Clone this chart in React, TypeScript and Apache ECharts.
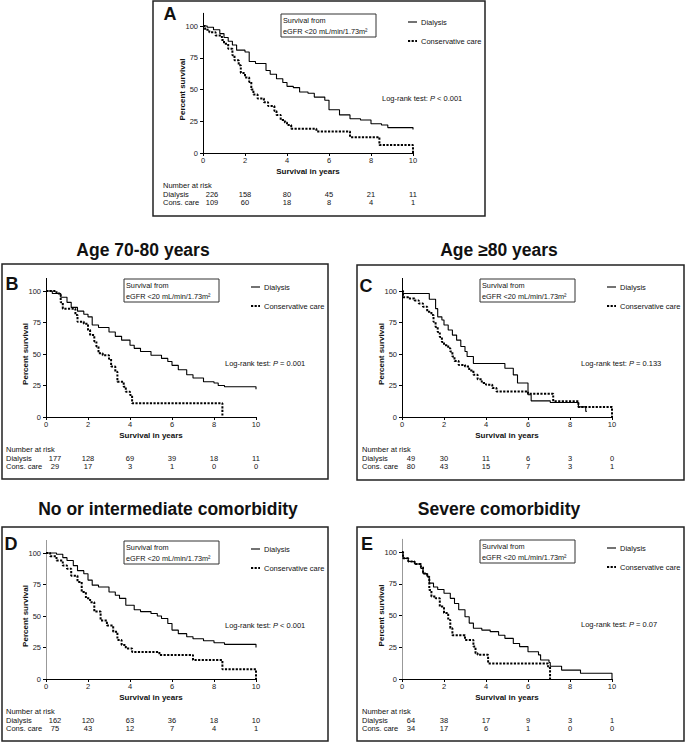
import React, { useEffect, useRef } from 'react';
import * as echarts from 'echarts';

// ---------- data ----------
const xTicks = [0, 2, 4, 6, 8, 10];
const yTicks = [0, 25, 50, 75, 100];

const panelLetters = ['A', 'B', 'C', 'D', 'E'];
const panelTitles = ['', 'Age 70-80 years', 'Age \u226580 years', 'No or intermediate comorbidity', 'Severe comorbidity'];
const pValues = ['< 0.001', '= 0.001', '= 0.133', '< 0.001', '= 0.07'];
const seriesNames = ['Dialysis', 'Conservative care'];
const riskLabels = ['Dialysis', 'Cons. care'];

const aDialysis = [[0, 100], [0.2, 99], [0.5, 97], [0.8, 94], [1.0, 91], [1.2, 88], [1.4, 85], [1.6, 81], [2.0, 79.5], [2.2, 72], [2.5, 70.5], [3.0, 65], [3.2, 62], [3.5, 58.5], [3.8, 55.5], [4.0, 52.5], [4.3, 51.5], [4.6, 48], [5.0, 47], [5.3, 44], [5.8, 41.5], [6.0, 34], [6.5, 30], [7.0, 27], [7.5, 26], [8.0, 23], [8.5, 22], [8.8, 20], [10, 20], [10, 18.5]];
const aCons = [[0, 100], [0.1, 97], [0.3, 95], [0.6, 92.5], [0.9, 89], [1.0, 86], [1.2, 82], [1.4, 77], [1.5, 73], [1.7, 69], [1.8, 63], [2.0, 59.5], [2.2, 56], [2.3, 50], [2.4, 46], [2.6, 43], [2.9, 40], [3.1, 37], [3.4, 33], [3.5, 30], [3.7, 26], [3.9, 24], [4.0, 22], [4.2, 19], [5.4, 17], [7.0, 12.5], [8.4, 6.3], [10, 0]];

const bDialysis = [[0, 100], [0.3, 98], [0.7, 95], [1.0, 91], [1.2, 87], [1.5, 84], [1.8, 81.5], [2.0, 79.5], [2.2, 73], [2.5, 71], [3.0, 67.5], [3.3, 64], [3.6, 61], [4.0, 57], [4.2, 54.5], [4.5, 52], [5.0, 49], [5.5, 46.5], [5.8, 44], [6.0, 41], [6.3, 37.5], [6.7, 33.5], [7.0, 31], [7.5, 28], [8.0, 27], [8.2, 25], [8.5, 24], [10, 24], [10, 22]];
const bCons = [[0, 100], [0.5, 98], [0.7, 91], [0.8, 86], [1.4, 81], [1.5, 75.5], [1.8, 74], [2.0, 69], [2.1, 65], [2.3, 60], [2.4, 56], [2.5, 50.5], [2.7, 49], [3.0, 46], [3.1, 40], [3.3, 36], [3.4, 28], [3.7, 24], [3.8, 20], [4.0, 17.5], [4.1, 11], [8.4, 0]];

const cDialysis = [[0, 100], [0.05, 98], [1.3, 93.5], [1.6, 86], [1.7, 79.5], [1.9, 77], [2.0, 73], [2.2, 69], [2.4, 65], [2.6, 61], [2.8, 56], [3.0, 52], [3.1, 48], [3.4, 42.5], [4.9, 38.7], [5.3, 33.4], [5.5, 27], [6.0, 17.6], [6.15, 12.8], [7.06, 11.5], [8.4, 8], [8.75, 4.5], [8.8, 4.5]];
const cCons = [[0, 100], [0.05, 95], [0.3, 94], [0.6, 92.5], [0.8, 90], [1.0, 87.5], [1.2, 83.5], [1.4, 81], [1.5, 75.5], [1.6, 71.5], [1.7, 67.5], [1.8, 63.5], [1.9, 59.5], [2.0, 57], [2.2, 54.5], [2.3, 52], [2.4, 48], [2.5, 44.5], [2.7, 41.3], [3.0, 40], [3.2, 37], [3.4, 33.5], [3.6, 30], [3.8, 27], [4.0, 25.5], [4.3, 23], [4.5, 20.3], [6.0, 18.4], [7.2, 12.5], [8.4, 8], [10, 0]];

const dDialysis = [[0, 100], [0.5, 99], [0.8, 96.3], [1.0, 94], [1.3, 90], [1.5, 86], [1.8, 83.5], [2.0, 78.5], [2.2, 74.5], [2.5, 73], [3.0, 69], [3.3, 66.5], [3.5, 64], [3.8, 58.5], [4.2, 55], [4.5, 53.5], [5.0, 52], [5.3, 50], [5.5, 48], [5.8, 44], [6.0, 38.8], [6.3, 36], [6.7, 33.5], [7.0, 32], [7.5, 30.3], [8.0, 28.8], [8.5, 27.5], [10, 27.5], [10, 25]];
const dCons = [[0, 100], [0.2, 97.5], [0.5, 94], [0.8, 90], [1.0, 87.5], [1.2, 82], [1.5, 77], [1.7, 69], [1.9, 64], [2.1, 61], [2.3, 53.5], [2.6, 46.5], [2.9, 42.5], [3.2, 37.5], [3.4, 31], [3.6, 27], [3.8, 24.3], [4.1, 21.5], [5.4, 19], [7.0, 15], [8.4, 7.7], [10, 0]];

const eDialysis = [[0, 100], [0.05, 95], [0.3, 92.5], [0.6, 90.5], [0.9, 87], [1.0, 83], [1.2, 80.5], [1.3, 75.5], [1.5, 72.5], [1.7, 70.5], [2.0, 67.5], [2.3, 63.5], [2.5, 59.5], [2.7, 54.5], [3.0, 49], [3.2, 44], [3.4, 40], [3.8, 38.5], [4.2, 37.3], [4.6, 34.5], [4.9, 32], [5.3, 28], [5.6, 25.5], [6.0, 21.5], [6.5, 19], [6.6, 15], [7.0, 13], [7.06, 10], [7.6, 7], [8.5, 4.5], [10, 0]];
const eCons = [[0, 100], [0.05, 95], [0.3, 92.5], [0.6, 90.5], [0.9, 88], [1.0, 83], [1.2, 80.5], [1.3, 70], [1.4, 65], [1.6, 63.5], [1.8, 57], [2.0, 52], [2.2, 46.5], [2.3, 40], [2.4, 34.5], [3.0, 30.7], [3.4, 25.5], [3.5, 20.3], [3.6, 19], [4.1, 12.3], [6.95, 9.8], [7.05, 0]];

const aRiskDialysis = [226, 158, 80, 45, 21, 11];
const aRiskCons = [109, 60, 18, 8, 4, 1];
const bRiskDialysis = [177, 128, 69, 39, 18, 11];
const bRiskCons = [29, 17, 3, 1, 0, 0];
const cRiskDialysis = [49, 30, 11, 6, 3, 0];
const cRiskCons = [80, 43, 15, 7, 3, 1];
const dRiskDialysis = [162, 120, 63, 36, 18, 10];
const dRiskCons = [75, 43, 12, 7, 4, 1];
const eRiskDialysis = [64, 38, 17, 9, 3, 1];
const eRiskCons = [34, 17, 6, 1, 0, 0];

const curves = [[aDialysis, aCons], [bDialysis, bCons], [cDialysis, cCons], [dDialysis, dCons], [eDialysis, eCons]];
const risks = [[aRiskDialysis, aRiskCons], [bRiskDialysis, bRiskCons], [cRiskDialysis, cRiskCons], [dRiskDialysis, dRiskCons], [eRiskDialysis, eRiskCons]];

// ---------- layout ----------
const FONT = '"Liberation Sans", Arial, Helvetica, sans-serif';
const PLOT_W = 210;
const layouts = [
  { x0: 203, yTop: 26, plotH: 127, box: [153, 1, 332, 215], letter: [170, 14], title: null as null | number[], yAxisColor: '#000' },
  { x0: 46, yTop: 291, plotH: 126, box: [2, 264, 326, 215], letter: [12, 284], title: [143, 250], yAxisColor: '#000' },
  { x0: 402, yTop: 291, plotH: 126, box: [357, 265, 327, 215], letter: [366, 286], title: [499, 250], yAxisColor: '#000' },
  { x0: 46, yTop: 553, plotH: 126, box: [2, 527, 326, 214], letter: [11, 544], title: [168, 509], yAxisColor: '#999' },
  { x0: 402, yTop: 552, plotH: 127, box: [357, 527, 327, 214], letter: [367, 544], title: [499, 509], yAxisColor: '#999' },
];

function txt(x: number, y: number, text: string, opts: any = {}) {
  const { align = 'left', vAlign = 'middle', size = 7.5, weight = 'normal', rotation = 0, rich } = opts;
  return {
    type: 'text', x, y, rotation, silent: true,
    style: {
      text, fontSize: size, fontWeight: weight, fontFamily: FONT, fill: '#111',
      align, verticalAlign: vAlign, textAlign: align, textVerticalAlign: vAlign,
      ...(rich ? { rich } : {}),
    },
  };
}

function buildOption() {
  const grid: any[] = [];
  const xAxis: any[] = [];
  const yAxis: any[] = [];
  const series: any[] = [];
  const graphic: any[] = [];

  layouts.forEach((l, i) => {
    const gridTop = l.yTop - l.plotH * 0.1;
    grid.push({ left: l.x0, top: gridTop, width: PLOT_W, height: l.plotH * 1.1 });
    xAxis.push({
      type: 'value', gridIndex: i, min: 0, max: 10, interval: 2,
      axisLine: { show: true, onZero: false, lineStyle: { color: '#000', width: 1 } },
      axisTick: { show: true, length: 3, lineStyle: { color: '#000' } },
      axisLabel: { fontSize: 7.5, color: '#222', margin: 3, fontFamily: FONT },
      splitLine: { show: false },
    });
    yAxis.push({
      type: 'value', gridIndex: i, min: 0, max: 110,
      axisLine: { show: true, onZero: false, lineStyle: { color: l.yAxisColor, width: 1 } },
      axisTick: { show: true, length: 3, customValues: yTicks, lineStyle: { color: '#000' } },
      axisLabel: { fontSize: 7.5, color: '#222', margin: 5, fontFamily: FONT, customValues: yTicks },
      splitLine: { show: false },
    });
    curves[i].forEach((d, k) => {
      series.push({
        type: 'line', name: seriesNames[k], xAxisIndex: i, yAxisIndex: i, data: d,
        step: 'end', symbol: 'none', silent: true,
        lineStyle: k === 0 ? { color: '#000', width: 1.1 } : { color: '#000', width: 2, type: [2.2, 1.4] },
      });
    });

    const x0 = l.x0, yTop = l.yTop, y0 = l.yTop + l.plotH;
    // panel box
    graphic.push({ type: 'rect', silent: true, shape: { x: l.box[0], y: l.box[1], width: l.box[2], height: l.box[3] }, style: { fill: 'none', stroke: '#222', lineWidth: 1.5 } });
    // letter
    graphic.push(txt(l.letter[0], l.letter[1], panelLetters[i], { align: 'center', size: 18, weight: 'bold' }));
    // title
    if (l.title) graphic.push(txt(l.title[0], l.title[1], panelTitles[i], { align: 'center', size: 17.5, weight: 'bold' }));
    // axis names
    graphic.push(txt(x0 + PLOT_W / 2, y0 + 18, 'Survival in years', { align: 'center', size: 8, weight: 'bold' }));
    graphic.push(txt(x0 - 21, yTop + l.plotH / 2, 'Percent survival', { align: 'center', size: 8, weight: 'bold', rotation: Math.PI / 2 }));
    // info box
    graphic.push({ type: 'rect', silent: true, shape: { x: x0 + 78, y: yTop - 12, width: 95, height: 23 }, style: { fill: '#fff', stroke: '#333', lineWidth: 1 } });
    graphic.push(txt(x0 + 80, yTop - 6, 'Survival from', { size: 7.3 }));
    graphic.push(txt(x0 + 80, yTop + 5, 'eGFR <20 mL/min/1.73m\u00b2', { size: 7.3 }));
    // legend
    graphic.push({ type: 'line', silent: true, shape: { x1: x0 + 205, y1: yTop - 4, x2: x0 + 214, y2: yTop - 4 }, style: { stroke: '#000', lineWidth: 1.1 } });
    graphic.push(txt(x0 + 218, yTop - 4, seriesNames[0]));
    graphic.push({ type: 'line', silent: true, shape: { x1: x0 + 205, y1: yTop + 15, x2: x0 + 214, y2: yTop + 15 }, style: { stroke: '#000', lineWidth: 2, lineDash: [2.2, 1.4] } });
    graphic.push(txt(x0 + 218, yTop + 15, seriesNames[1]));
    // log-rank
    graphic.push(txt(x0 + 179, yTop + 72, '{a|Log-rank test: }{i|P}{a| ' + pValues[i] + '}', {
      rich: {
        a: { fontSize: 7.5, fontFamily: FONT, fill: '#111', color: '#111' },
        i: { fontSize: 7.5, fontFamily: FONT, fontStyle: 'italic', fill: '#111', color: '#111' },
      },
    }));
    // number at risk
    graphic.push(txt(x0 - 40, y0 + 32, 'Number at risk'));
    risks[i].forEach((row, k) => {
      const ry = y0 + 41 + k * 8.5;
      graphic.push(txt(x0 - 40, ry, riskLabels[k]));
      row.forEach((v, j) => {
        const cx = j === 0 ? x0 + 9 : x0 + (PLOT_W / 10) * xTicks[j];
        graphic.push(txt(cx, ry, String(v), { align: 'center' }));
      });
    });
  });

  return { animation: false, backgroundColor: '#fff', grid, xAxis, yAxis, series, graphic };
}

export default function App() {
  const ref = useRef<HTMLDivElement>(null);
  useEffect(() => {
    if (!ref.current) return;
    const chart = echarts.init(ref.current, undefined, { renderer: 'svg' });
    chart.setOption(buildOption() as any);
    return () => chart.dispose();
  }, []);
  return <div ref={ref} style={{ position: 'absolute', left: 0, top: 0, width: 685, height: 742, background: '#fff' }} />;
}
